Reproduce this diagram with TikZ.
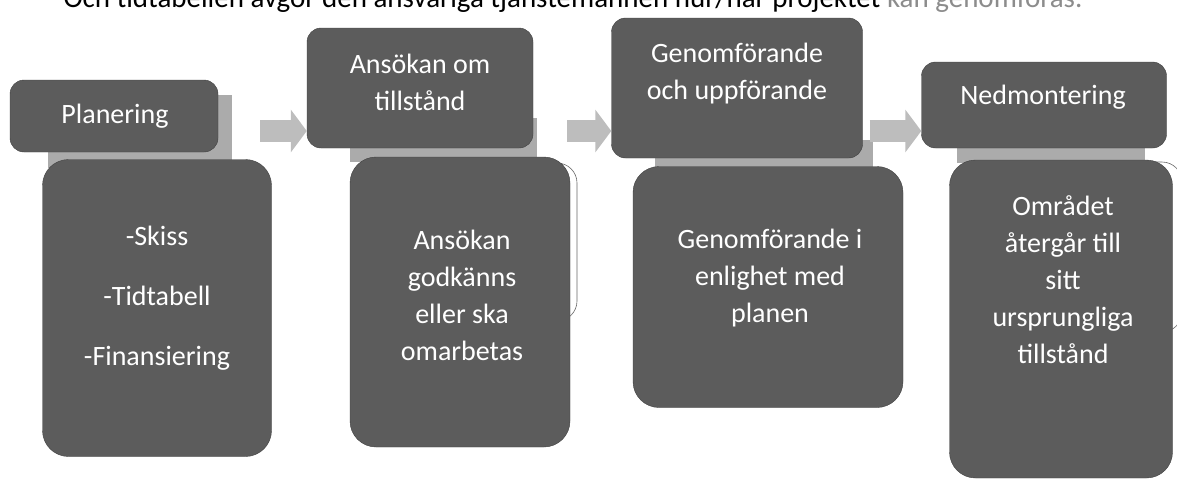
\documentclass[tikz,border=0pt]{standalone}
\usepackage{fontspec}
\setmainfont{Carlito}
\usetikzlibrary{ arrows.meta,  % For the block arrows
                 positioning,
               }
\definecolor{boxgray}{HTML}{5C5C5C}
\definecolor{bandgray}{HTML}{ABABAB}
\definecolor{flowgray}{HTML}{BDBDBD}
\tikzstyle{header} = [rectangle, rounded corners=14pt, draw=black!75, fill=boxgray]
\tikzstyle{body} = [rectangle, rounded corners=26pt, draw=black!75, fill=boxgray]
\tikzstyle{band} = [rectangle, fill=bandgray]
\tikzstyle{backbox} = [rectangle, rounded corners=20pt, draw=black!60, line width=0.6pt, fill=white]
\tikzstyle{txt} = [text=white, align=center, font=\fontsize{28}{37}\selectfont]
\tikzstyle{flow} = [-{Triangle[length=16pt,width=42pt]}, line width=22pt, draw=flowgray]

\begin{document}
\begin{tikzpicture}[x=1pt, y=-1pt]
  \useasboundingbox (0,0) rectangle (1177,482);
  \clip (0,0) rectangle (1177,482);

  \node (intro) [anchor=base west, font=\fontsize{29}{35}\selectfont] at (60,7)
    {Och tidtabellen avgör den ansvariga tjänstemannen hur/när projektet \textcolor{black!45}{kan genomföras.}};

  % step 1
  \node (back1) [backbox, minimum width=200pt, minimum height=135pt] at (170,232.5) {};
  \node (band1) [band, minimum width=184pt, minimum height=73pt] at (140,131) {};
  \node (b1) [body, minimum width=229pt, minimum height=297pt] at (157,308) {};
  \node (plan) [header, minimum width=208pt, minimum height=72pt] at (114,116) {};
  \node (plan-t) [txt] at (115,116) {Planering};
  \node (b1-t) [txt] at (157,298) {-Skiss\\[23pt]-Tidtabell\\[23pt]-Finansiering};

  % step 2
  \node (back2) [backbox, minimum width=217pt, minimum height=158pt] at (468.5,242) {};
  \node (band2) [band, minimum width=187pt, minimum height=44pt] at (443,140) {};
  \node (b2) [body, minimum width=220pt, minimum height=290pt] at (460,302) {};
  \node (ansok) [header, minimum width=226pt, minimum height=120pt] at (420,88) {};
  \node (ansok-t) [txt] at (420,82) {Ansökan om\\tillstånd};
  \node (b2-t) [txt] at (462,295) {Ansökan\\godkänns\\eller ska\\omarbetas};

  % step 3
  \node (back3) [backbox, minimum width=245pt, minimum height=125pt] at (773,238) {};
  \node (band3) [band, minimum width=218pt, minimum height=32pt] at (764,156) {};
  \node (b3) [body, minimum width=270pt, minimum height=241pt] at (768,287) {};
  \node (genom) [header, minimum width=251pt, minimum height=140pt] at (737,88) {};
  \node (genom-t) [txt] at (737,74) {Genomförande\\och uppförande};
  \node (b3-t) [txt] at (770,278) {Genomförande i\\enlighet med\\planen};

  % step 4
  \node (back4) [backbox, minimum width=217pt, minimum height=170pt] at (1073.5,247) {};
  \node (band4) [band, minimum width=188pt, minimum height=23pt] at (1051,151) {};
  \node (b4) [body, minimum width=223pt, minimum height=318pt] at (1061,319) {};
  \node (nedm) [header, minimum width=245pt, minimum height=86pt] at (1044,105) {};
  \node (nedm-t) [txt] at (1043,97) {Nedmontering};
  \node (b4-t) [txt] at (1063,280) {Området\\återgår till\\sitt\\ursprungliga\\tillstånd};

  % arrows between the steps
  \coordinate (row) at (0,131);
  \draw [flow, shorten <=42pt] (plan.east |- row) -- (ansok.west |- row);
  \draw [flow, shorten <=34pt] (ansok.east |- row) -- (genom.west |- row);
  \draw [flow, shorten <=7pt] (genom.east |- row) -- (nedm.west |- row);
\end{tikzpicture}
\end{document}
